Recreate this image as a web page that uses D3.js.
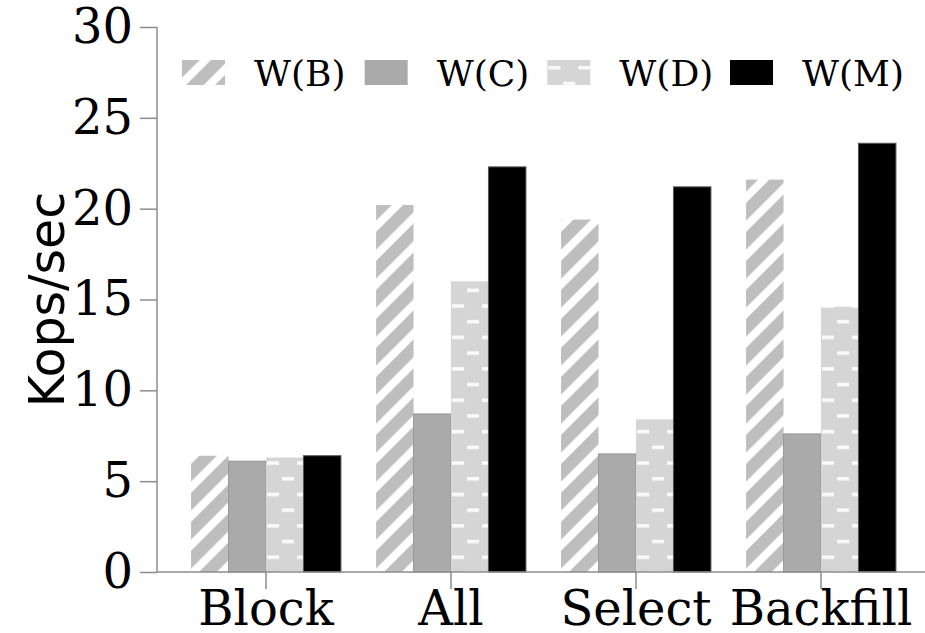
<!DOCTYPE html>
<html>
<head>
<meta charset="utf-8">
<script src="https://cdn.jsdelivr.net/npm/d3@7"></script>
<style>
  html, body { margin: 0; padding: 0; background: #fff; }
  svg { display: block; }
</style>
</head>
<body>
<svg id="chart" width="925" height="633"></svg>
<script>
// Throughput per strategy (Kops/sec) for each writer configuration
const categories = ["Block", "All", "Select", "Backfill"];
const seriesNames = ["W(B)", "W(C)", "W(D)", "W(M)"];
const wB = [6.4, 20.2, 19.4, 21.6];
const wC = [6.1, 8.7, 6.5, 7.6];
const wD = [6.3, 16.0, 8.4, 14.6];
const wM = [6.4, 22.3, 21.2, 23.6];
const yTicks = [0, 5, 10, 15, 20, 25, 30];

const seriesValues = [wB, wC, wD, wM];
const fills = ["url(#hatchB)", "#aaaaaa", "url(#dashD)", "#000000"];
const strokes = ["none", "#989898", "none", "#555555"];

const svg = d3.select("#chart");
const serif = "'DejaVu Serif', 'Liberation Serif', serif";
const sans = "'DejaVu Sans', 'Liberation Sans', sans-serif";
const axisColor = "#8c8c8c";

// Fill patterns: diagonal hatch and dashed dots
const defs = svg.append("defs");
const hatch = defs.append("pattern")
  .attr("id", "hatchB")
  .attr("patternUnits", "userSpaceOnUse")
  .attr("width", 20.5).attr("height", 20.5)
  .attr("patternTransform", "rotate(45)");
hatch.append("rect").attr("width", 20.5).attr("height", 20.5).attr("fill", "#ffffff");
hatch.append("rect").attr("x", 0).attr("width", 12.5).attr("height", 20.5).attr("fill", "#bebebe");

const dash = defs.append("pattern")
  .attr("id", "dashD")
  .attr("patternUnits", "userSpaceOnUse")
  .attr("width", 30).attr("height", 31.4);
dash.append("rect").attr("width", 30).attr("height", 31.4).attr("fill", "#d5d5d5");
dash.append("rect").attr("x", 1).attr("y", 6).attr("width", 12).attr("height", 3.5).attr("fill", "#fbfbfb");
dash.append("rect").attr("x", 16).attr("y", 21.7).attr("width", 12).attr("height", 3.5).attr("fill", "#fbfbfb");

// Scales
const y = d3.scaleLinear().domain([0, 30]).range([572, 27]);
const x = d3.scaleBand().domain(categories).range([173.5, 913.5]).paddingInner(0.19).paddingOuter(0.095);
const xSub = d3.scaleBand().domain(seriesNames).range([0, x.bandwidth()]);

// Bars
const groups = svg.append("g").selectAll("g")
  .data(categories)
  .join("g")
  .attr("transform", d => `translate(${x(d)},0)`);

groups.selectAll("rect")
  .data((c, ci) => seriesNames.map((s, si) => ({ s, si, v: seriesValues[si][ci] })))
  .join("rect")
  .attr("x", d => xSub(d.s))
  .attr("y", d => y(d.v))
  .attr("width", xSub.bandwidth())
  .attr("height", d => y(0) - y(d.v))
  .attr("fill", d => fills[d.si])
  .attr("stroke", d => strokes[d.si])
  .attr("stroke-width", 1);

// Y axis
const yAxis = svg.append("g")
  .attr("transform", "translate(157,0)")
  .call(d3.axisLeft(y).tickValues(yTicks).tickSize(17).tickPadding(7).tickFormat(d3.format("d")));
yAxis.select(".domain").attr("stroke", axisColor).attr("stroke-width", 1.5).attr("d", "M0,27V572");
yAxis.selectAll(".tick line").attr("stroke", axisColor).attr("stroke-width", 1.5);
yAxis.selectAll(".tick text")
  .attr("font-family", serif).attr("font-size", 48).attr("fill", "#000");

// X axis
const xAxis = svg.append("g")
  .attr("transform", "translate(0,572)")
  .call(d3.axisBottom(x).tickSize(17).tickPadding(2));
xAxis.select(".domain").attr("stroke", axisColor).attr("stroke-width", 1.5).attr("d", "M157,0H925");
xAxis.selectAll(".tick line").attr("stroke", axisColor).attr("stroke-width", 1.5);
xAxis.selectAll(".tick text")
  .attr("font-family", serif).attr("font-size", 48).attr("fill", "#000");

// Y axis title
svg.append("text")
  .attr("transform", "translate(64,299.5) rotate(-90)")
  .attr("text-anchor", "middle")
  .attr("font-family", sans)
  .attr("font-size", 49)
  .attr("fill", "#000")
  .text("Kops/sec");

// Legend
const legendX = d3.scalePoint().domain(seriesNames).range([182, 730]);
const legend = svg.append("g").selectAll("g")
  .data(seriesNames)
  .join("g")
  .attr("transform", d => `translate(${legendX(d)},60)`);
legend.append("rect")
  .attr("width", 43).attr("height", 25)
  .attr("fill", (d, i) => fills[i]);
legend.append("text")
  .attr("x", 72).attr("y", 26)
  .attr("font-family", serif).attr("font-size", 36).attr("fill", "#000")
  .text(d => d);
</script>
</body>
</html>
